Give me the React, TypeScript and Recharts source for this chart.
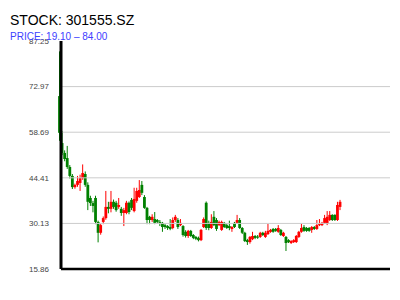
import { Bar, ComposedChart, ReferenceLine, XAxis, YAxis } from "recharts";

const opens = [
  70, 55.3, 52.2, 50.6, 47.8, 45.0, 41.5, 42.2, 42.8, 44.3,
  45.6, 42.2, 38.1, 36.5, 38.1, 30.6, 27.2, 30.6, 31.8, 35.3,
  34.7, 36.9, 36.6, 35.3, 34.7, 33.4, 33.4, 36.6, 37.5, 34.0,
  37.2, 38.4, 42.2, 38.4, 35.0, 32.2, 31.2, 31.5, 31.2, 30.6,
  30.3, 29.6, 29.3, 29.0, 28.7, 31.2, 31.2, 29.6, 29.3, 27.5,
  26.2, 27.8, 26.5, 25.9, 25.6, 24.9, 29.0, 36.6, 30.3, 28.7,
  32.2, 31.2, 29.6, 28.1, 30.3, 29.6, 29.3, 28.4, 30.3, 30.3,
  31.2, 28.7, 27.2, 24.9, 24.3, 25.2, 26.2, 26.0, 25.9, 27.2,
  25.9, 26.8, 27.5, 28.4, 28.4, 27.5, 28.1, 26.2, 25.9, 24.9,
  24.0, 24.3, 24.3, 25.9, 27.5, 29.0, 28.7, 28.7, 28.1, 29.0,
  28.4, 29.6, 29.6, 30.3, 30.0, 31.2, 32.8, 32.8, 31.2, 35.3
];
const closes = [
  58.5, 52.2, 50.3, 47.8, 45.0, 41.5, 42.2, 43.4, 44.3, 45.9,
  42.2, 36.9, 36.5, 35.6, 30.6, 27.2, 29.6, 31.8, 35.3, 34.7,
  36.9, 35.3, 34.3, 35.9, 33.4, 34.3, 36.6, 33.7, 35.0, 37.8,
  40.3, 40.6, 39.7, 35.0, 31.2, 31.2, 32.2, 30.3, 30.6, 30.3,
  29.0, 29.0, 28.7, 28.4, 31.2, 32.2, 29.0, 30.3, 26.5, 26.2,
  27.8, 26.2, 25.6, 25.3, 24.9, 28.1, 31.5, 28.7, 28.7, 30.6,
  29.6, 28.4, 30.6, 30.6, 29.0, 28.7, 28.7, 29.0, 29.0, 31.2,
  28.7, 27.2, 24.6, 24.3, 25.9, 26.2, 25.6, 25.9, 27.2, 26.5,
  27.2, 27.8, 28.1, 27.5, 27.8, 28.7, 26.5, 27.2, 24.0, 24.3,
  24.6, 24.9, 26.2, 27.5, 28.7, 27.8, 27.8, 27.8, 29.0, 28.4,
  29.6, 29.9, 30.3, 31.8, 32.2, 32.8, 31.2, 31.2, 35.9, 36.9
];
const highs = [
  84.0, 59.0, 53.0, 54.4, 48.4, 45.6, 42.6, 45.0, 45.4, 48.6,
  46.4, 43.0, 38.8, 37.2, 38.8, 31.0, 30.0, 32.3, 40.3, 36.9,
  40.3, 37.6, 37.2, 38.1, 35.3, 35.0, 37.2, 37.0, 38.1, 41.3,
  41.3, 43.7, 43.4, 39.0, 35.3, 32.5, 33.0, 33.7, 31.5, 31.2,
  30.6, 30.0, 29.6, 31.5, 32.0, 32.8, 31.8, 31.5, 29.6, 28.0,
  28.1, 28.1, 26.8, 26.2, 26.0, 28.4, 32.0, 37.0, 31.0, 33.0,
  34.0, 31.8, 31.0, 31.0, 30.6, 30.0, 31.0, 29.3, 30.6, 32.8,
  31.8, 29.0, 27.5, 25.3, 26.2, 27.5, 26.5, 26.5, 27.5, 27.5,
  27.8, 30.0, 28.4, 28.7, 28.7, 29.6, 28.4, 27.5, 26.2, 25.2,
  24.9, 25.2, 26.5, 27.8, 30.0, 29.6, 29.0, 29.0, 29.3, 29.3,
  31.2, 31.5, 30.6, 32.8, 34.0, 34.0, 33.0, 33.0, 36.9, 37.5
];
const lows = [
  56.0, 51.5, 49.6, 47.2, 44.2, 40.9, 41.0, 41.6, 40.3, 43.8,
  41.6, 34.3, 35.6, 33.6, 29.9, 24.2, 26.6, 29.9, 31.3, 33.3,
  33.6, 34.7, 33.8, 34.7, 32.5, 29.3, 33.0, 33.0, 34.3, 33.6,
  36.6, 38.1, 39.0, 34.7, 29.9, 29.9, 30.6, 29.9, 30.0, 29.3,
  27.5, 28.4, 28.1, 28.0, 28.3, 30.6, 28.4, 29.3, 26.0, 25.7,
  25.6, 25.9, 25.2, 24.9, 24.5, 24.6, 28.7, 28.1, 28.0, 28.4,
  29.3, 27.8, 29.3, 27.8, 28.7, 28.4, 28.0, 27.5, 28.7, 30.0,
  28.4, 26.8, 24.3, 23.4, 23.8, 24.9, 25.2, 25.3, 25.6, 26.2,
  25.6, 26.5, 27.2, 27.2, 27.5, 27.2, 26.2, 25.9, 21.5, 24.0,
  23.7, 24.0, 24.0, 25.6, 27.2, 27.5, 27.5, 27.5, 27.2, 28.1,
  28.1, 29.3, 29.3, 30.0, 29.6, 30.9, 30.9, 30.9, 30.9, 34.3
];

const totalSlots = 129;
const yTicks = [15.86, 30.13, 44.41, 58.69, 72.97, 87.25];
const gridValues = [30.13, 44.41, 58.69, 72.97];

const data = Array.from({ length: totalSlots }, (_, i) =>
  i < opens.length
    ? { idx: i, open: opens[i], close: closes[i], high: highs[i], low: lows[i] }
    : { idx: i }
);

const UP = "#ff0000";
const DOWN = "#008000";

function Candle(props: any) {
  const { x, y, width, height, payload } = props;
  if (payload.high == null || !height) return null;
  const { open, close, high, low } = payload;
  const k = height / (high - low);
  const cx = x + width / 2;
  const top = y + (high - Math.max(open, close)) * k;
  const bot = y + (high - Math.min(open, close)) * k;
  const color = close >= open ? UP : DOWN;
  return (
    <g>
      <line x1={cx} x2={cx} y1={y} y2={y + height} stroke={color} strokeWidth={1} />
      <rect x={cx - 1.4} y={top} width={2.8} height={Math.max(bot - top, 1)} fill={color} />
    </g>
  );
}

export default function App() {
  return (
    <div
      style={{
        position: "absolute",
        left: 0,
        top: 0,
        width: 400,
        height: 300,
        background: "#fff",
        fontFamily: "'Liberation Sans', Arial, sans-serif"
      }}
    >
      <ComposedChart
        width={400}
        height={300}
        data={data}
        barCategoryGap={0}
        margin={{ top: 41, right: 10, left: 0, bottom: 30 }}
      >
        {gridValues.map((v) => (
          <ReferenceLine key={v} y={v} stroke="#cccccc" strokeWidth={1} />
        ))}
        <Bar
          dataKey={(d: any) => (d.high == null ? null : [d.low, d.high])}
          shape={<Candle />}
          isAnimationActive={false}
        />
        <XAxis
          dataKey="idx"
          type="category"
          tick={false}
          tickLine={false}
          height={1}
          padding={{ left: -3, right: 0 }}
          axisLine={{ stroke: "#000", strokeWidth: 2.5 }}
        />
        <YAxis
          type="number"
          width={61}
          domain={[15.86, 87.25]}
          ticks={yTicks}
          interval={0}
          allowDataOverflow
          tickLine={false}
          tickMargin={6}
          axisLine={{ stroke: "#000", strokeWidth: 3 }}
          tick={{ fontSize: 8, fill: "#444" }}
        />
      </ComposedChart>
      <div
        style={{
          position: "absolute",
          left: 10,
          top: 13,
          fontSize: 14,
          lineHeight: "14px",
          color: "#000",
          whiteSpace: "nowrap"
        }}
      >
        STOCK: 301555.SZ
      </div>
      <div
        style={{
          position: "absolute",
          left: 10,
          top: 32,
          fontSize: 10,
          lineHeight: "10px",
          color: "#4040ff",
          whiteSpace: "nowrap"
        }}
      >
        PRICE: 19.10 – 84.00
      </div>
    </div>
  );
}
